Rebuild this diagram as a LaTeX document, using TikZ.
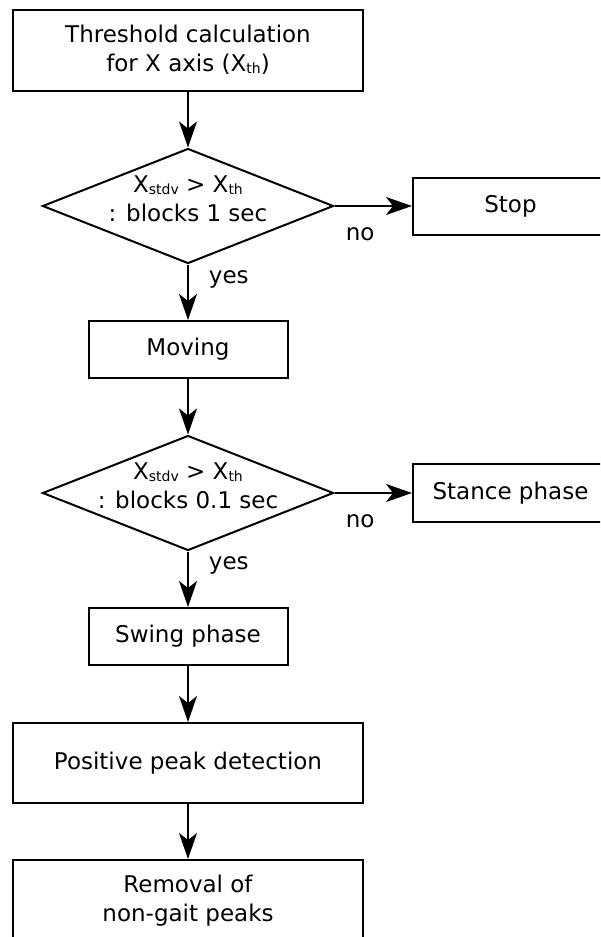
\documentclass[tikz,border=0pt]{standalone}
\usepackage{fontspec}
\setmainfont{DejaVu Sans}
\usetikzlibrary{shapes.geometric,arrows.meta}
\newcommand{\lowsub}[1]{\raisebox{-1.5pt}{\fontsize{14}{14}\selectfont #1}}
\tikzset{
  box/.style={draw, line width=2pt, inner sep=4pt, align=center},
  test/.style={draw, diamond, aspect=2.53, inner sep=-10pt, line width=2pt,
    minimum width=291pt, minimum height=115pt, align=center},
  arrow/.style={line width=1.8pt, -{Stealth[length=26pt,width=18pt,inset=7pt]}},
  lbl/.style={inner sep=0pt}
}

\begin{document}
\begin{tikzpicture}[x=1pt, y=-1pt, every node/.style={font=\fontsize{23}{29}\selectfont}]
			%%%%% START %%%%%
			\useasboundingbox (0, 0) rectangle (600, 937);
			\clip (0, 0) rectangle (600, 937);
			
			\node[box, minimum width=350pt, minimum height=81pt] (thresh) at (188, 50) {Threshold calculation\\for X axis (X\lowsub{th})};
			
			\node[test] (test1) at (188, 206) {X\lowsub{stdv} > X\lowsub{th}\\: blocks 1 sec\rule[-14.5pt]{0pt}{14.5pt}};
			\node[box, minimum width=195pt, minimum height=57pt] (stop) at (510.5, 206) {Stop};
			
			\node[box, minimum width=199pt, minimum height=57pt] (moving) at (188, 349.5) {Moving};
			
			\node[test] (test2) at (188, 493) {X\lowsub{stdv} > X\lowsub{th}\\: blocks 0.1 sec\rule[-14.5pt]{0pt}{14.5pt}};
			\node[box, minimum width=195pt, minimum height=58pt] (stance) at (510.5, 493) {Stance phase};
			
			\node[box, minimum width=199pt, minimum height=57pt] (swing) at (188, 636.5) {Swing phase};
			
			\node[box, minimum width=350pt, minimum height=80pt] (peak) at (188, 763) {Positive peak detection};
			
			\node[box, minimum width=350pt, minimum height=81pt] (removal) at (188, 900.5) {Removal of\\non-gait peaks};
			
			\draw[arrow] (thresh.south) -- (test1.north);
			\draw[arrow] (test1.east) -- node[lbl, pos=0.33, anchor=north, yshift=-21pt] {no} (stop.west);
			\draw[arrow] (test1.south) -- node[lbl, pos=0.27, anchor=west, xshift=20pt] {yes} (moving.north);
			\draw[arrow] (moving.south) -- (test2.north);
			\draw[arrow] (test2.east) -- node[lbl, pos=0.33, anchor=north, yshift=-21pt] {no} (stance.west);
			\draw[arrow] (test2.south) -- node[lbl, pos=0.25, anchor=west, xshift=20pt] {yes} (swing.north);
			\draw[arrow] (swing.south) -- (peak.north);
			\draw[arrow] (peak.south) -- (removal.north);
			
			%%%%% END %%%%%
\end{tikzpicture}
\end{document}
